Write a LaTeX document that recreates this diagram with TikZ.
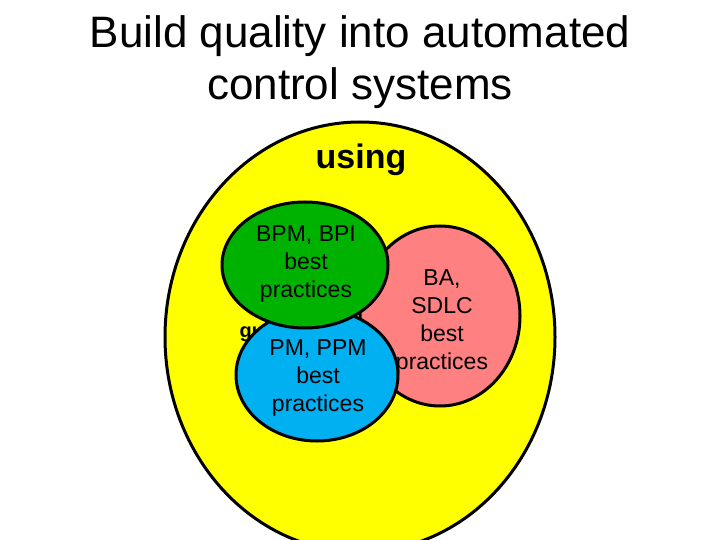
\documentclass[tikz,border=0pt]{standalone}
\usepackage{fontspec}
\setmainfont{Liberation Sans}
\definecolor{ygold}{RGB}{255,255,0}
\definecolor{pinkc}{RGB}{255,128,128}
\definecolor{bluec}{RGB}{0,176,240}
\definecolor{greenc}{RGB}{0,178,0}
\begin{document}
\begin{tikzpicture}[x=1pt,y=-1pt,
  blob/.style={draw=black,line width=3pt},
  lbl/.style={align=center,font=\fontsize{23}{28}\selectfont}]
\useasboundingbox (0,0) rectangle (720,540);
\fill[white] (0,0) rectangle (720,540);
\node[align=center,font=\fontsize{44}{52}\selectfont] (title) at (360,62) {Build quality into automated\\control systems};
\begin{scope}
\clip (0,0) rectangle (720,540);
\draw[blob,fill=ygold] (360,337) ellipse (195 and 215);
\end{scope}
\node[font=\fontsize{34}{40}\selectfont\bfseries] (using) at (361,160) {using};
\node[font=\fontsize{20}{24}\selectfont\bfseries,anchor=west] (gu) at (236,332) {guided by};
\draw[blob,fill=pinkc] (440,316) ellipse (80 and 90);
\node[lbl] (ba) at (442,322) {BA,\\SDLC\\best\\practices};
\draw[blob,fill=bluec] (317,375) ellipse (81 and 66);
\node[lbl] (pm) at (318,378) {PM, PPM\\best\\practices};
\draw[blob,fill=greenc] (305,265) ellipse (83 and 63);
\node[lbl] (bpm) at (306,264) {BPM, BPI\\best\\practices};
\end{tikzpicture}
\end{document}
